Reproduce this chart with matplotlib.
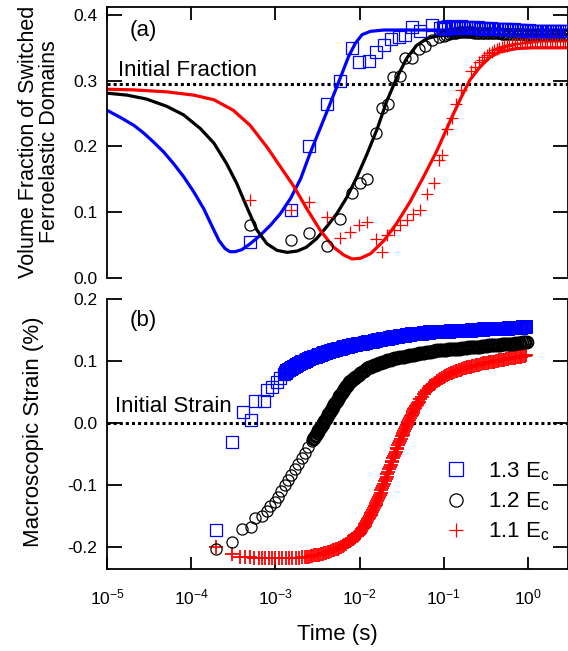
import numpy as np
import matplotlib
matplotlib.use("Agg")
import matplotlib.pyplot as plt
from matplotlib.lines import Line2D
from matplotlib.ticker import LogLocator, NullLocator, LogFormatterSciNotation

plt.rcParams['font.family'] = ['Liberation Sans', 'DejaVu Sans']
plt.rcParams['mathtext.fontset'] = 'custom'
plt.rcParams['mathtext.rm'] = 'Liberation Sans'
plt.rcParams['mathtext.it'] = 'Liberation Sans:italic'
plt.rcParams['mathtext.bf'] = 'Liberation Sans:bold'
plt.rcParams['axes.unicode_minus'] = False

# ---------------- data (log10 of time in s) ----------------
series_labels = ["1.3 E$_\\mathrm{c}$", "1.2 E$_\\mathrm{c}$", "1.1 E$_\\mathrm{c}$"]

# Panel (a): volume fraction of switched ferroelastic domains
a13_logt = [-3.30, -2.82, -2.60, -2.39, -2.23, -2.09, -2.01, -1.89, -1.81, -1.71, -1.63, -1.53,
            -1.46, -1.38, -1.28, -1.14, -1.04,
            -1.01, -0.98, -0.95, -0.92, -0.89, -0.86, -0.83, -0.80, -0.77, -0.74,
            -0.71, -0.68, -0.65, -0.62, -0.59, -0.56, -0.53, -0.50, -0.47, -0.44,
            -0.41, -0.38, -0.35, -0.32, -0.29, -0.26, -0.23, -0.20, -0.17, -0.14,
            -0.11, -0.08, -0.05, -0.02, 0.01, 0.04, 0.07, 0.10, 0.13, 0.16,
            0.19, 0.22, 0.25, 0.28, 0.31, 0.34, 0.37, 0.40, 0.43, 0.46]
a13_val = [0.055, 0.103, 0.201, 0.264, 0.300, 0.350, 0.329, 0.330, 0.344, 0.354, 0.363, 0.367,
           0.370, 0.382, 0.375, 0.385, 0.380,
           0.382, 0.379, 0.383, 0.381, 0.380, 0.382, 0.381, 0.383, 0.380, 0.381,
           0.382, 0.380, 0.381, 0.380, 0.381, 0.379, 0.380, 0.380, 0.379, 0.380,
           0.379, 0.379, 0.378, 0.379, 0.378, 0.378, 0.378, 0.377, 0.378, 0.377,
           0.377, 0.377, 0.377, 0.376, 0.377, 0.376, 0.376, 0.376, 0.376, 0.376,
           0.375, 0.376, 0.375, 0.375, 0.375, 0.375, 0.375, 0.375, 0.375, 0.375]

a12_logt = [-3.30, -2.82, -2.60, -2.39, -2.23, -2.09, -1.99, -1.91, -1.81, -1.73, -1.66, -1.60,
            -1.52, -1.46, -1.38, -1.30, -1.22, -1.14, -1.06,
            -1.00, -0.97, -0.94, -0.91, -0.88, -0.85, -0.82, -0.79, -0.76, -0.73,
            -0.70, -0.67, -0.64, -0.61, -0.58, -0.55, -0.52, -0.49, -0.46, -0.43,
            -0.40, -0.37, -0.34, -0.31, -0.28, -0.25, -0.22, -0.19, -0.16, -0.13,
            -0.10, -0.07, -0.04, -0.01, 0.02, 0.05, 0.08, 0.11, 0.14, 0.17,
            0.20, 0.23, 0.26, 0.29, 0.32, 0.35, 0.38, 0.41, 0.44, 0.47]
a12_val = [0.081, 0.058, 0.069, 0.048, 0.089, 0.129, 0.145, 0.151, 0.221, 0.259, 0.264, 0.305,
           0.307, 0.334, 0.334, 0.348, 0.353, 0.362, 0.367,
           0.368, 0.370, 0.371, 0.372, 0.373, 0.373, 0.374, 0.374, 0.374, 0.374,
           0.374, 0.374, 0.373, 0.373, 0.373, 0.373, 0.373, 0.372, 0.372, 0.372,
           0.372, 0.372, 0.372, 0.371, 0.371, 0.371, 0.371, 0.371, 0.371, 0.371,
           0.371, 0.371, 0.370, 0.370, 0.370, 0.370, 0.370, 0.370, 0.370, 0.370,
           0.370, 0.370, 0.370, 0.370, 0.370, 0.370, 0.370, 0.370, 0.370, 0.370]

a11_logt = [-3.30, -2.82, -2.60, -2.39, -2.23, -2.11, -2.01, -1.91, -1.81, -1.73, -1.67, -1.59,
            -1.52, -1.44, -1.36, -1.28, -1.20, -1.12, -1.06, -1.02, -0.96, -0.90, -0.86, -0.80,
            -0.68, -0.63,
            -0.58, -0.55, -0.52, -0.49, -0.46, -0.43, -0.40, -0.37, -0.34, -0.31,
            -0.28, -0.25, -0.22, -0.19, -0.16, -0.13, -0.10, -0.07, -0.04, -0.01,
            0.02, 0.05, 0.08, 0.11, 0.14, 0.17, 0.20, 0.23, 0.26, 0.29,
            0.32, 0.35, 0.38, 0.41, 0.44, 0.47]
a11_val = [0.118, 0.103, 0.115, 0.093, 0.061, 0.070, 0.080, 0.085, 0.060, 0.040, 0.065, 0.073,
           0.080, 0.088, 0.098, 0.103, 0.127, 0.144, 0.179, 0.187, 0.227, 0.243, 0.265, 0.286,
           0.314, 0.321,
           0.328, 0.332, 0.336, 0.339, 0.342, 0.344, 0.346, 0.348, 0.349, 0.351,
           0.352, 0.353, 0.354, 0.355, 0.356, 0.357, 0.357, 0.358, 0.358, 0.359,
           0.359, 0.359, 0.360, 0.360, 0.360, 0.360, 0.360, 0.360, 0.360, 0.360,
           0.360, 0.360, 0.360, 0.360, 0.360, 0.360]

# Fit curves of panel (a)
fit13_logt = [-5.00, -4.84, -4.68, -4.57, -4.45, -4.33, -4.21, -4.09, -3.97, -3.85, -3.75, -3.67,
              -3.60, -3.54, -3.48, -3.40, -3.30, -3.18, -3.06, -2.94, -2.82, -2.70, -2.59, -2.47,
              -2.35, -2.23, -2.13, -2.05, -1.97, -1.87, -1.71, 0.48]
fit13_val = [0.255, 0.244, 0.232, 0.221, 0.207, 0.192, 0.174, 0.154, 0.131, 0.105, 0.078, 0.057,
             0.045, 0.040, 0.040, 0.043, 0.052, 0.065, 0.080, 0.098, 0.121, 0.151, 0.189, 0.227,
             0.265, 0.304, 0.337, 0.357, 0.370, 0.375, 0.377, 0.377]

fit12_logt = [-5.00, -4.76, -4.53, -4.29, -4.09, -3.89, -3.73, -3.58, -3.46, -3.34, -3.22, -3.10,
              -2.98, -2.86, -2.74, -2.63, -2.51, -2.39, -2.27, -2.15, -2.03, -1.91, -1.79, -1.68,
              -1.56, -1.44, -1.32, -1.20, -1.08, -0.92, 0.48]
fit12_val = [0.281, 0.278, 0.272, 0.261, 0.248, 0.227, 0.205, 0.174, 0.144, 0.108, 0.073, 0.052,
             0.042, 0.039, 0.041, 0.047, 0.060, 0.078, 0.098, 0.123, 0.154, 0.189, 0.227, 0.268,
             0.304, 0.334, 0.354, 0.364, 0.368, 0.369, 0.370]

fit11_logt = [-5.00, -4.68, -4.29, -3.97, -3.73, -3.50, -3.30, -3.10, -2.94, -2.78, -2.63, -2.47,
              -2.31, -2.19, -2.09, -1.99, -1.87, -1.71, -1.56, -1.40, -1.24, -1.08, -0.92, -0.80,
              -0.69, -0.57, -0.45, -0.33, -0.13, 0.07, 0.48]
fit11_val = [0.287, 0.286, 0.283, 0.278, 0.271, 0.255, 0.232, 0.199, 0.169, 0.139, 0.106, 0.073,
             0.047, 0.035, 0.029, 0.030, 0.037, 0.057, 0.083, 0.116, 0.154, 0.194, 0.240, 0.273,
             0.301, 0.321, 0.336, 0.344, 0.349, 0.350, 0.350]

# Panel (b): macroscopic strain (%)
b13_logt = [-3.70, -3.52, -3.38, -3.29, -3.24, -3.14, -3.10, -3.04, -2.98, -2.94, -2.90,
            -2.88, -2.86, -2.84, -2.82, -2.80, -2.78, -2.76, -2.74, -2.72, -2.70,
            -2.68, -2.66, -2.64, -2.62, -2.60, -2.58, -2.56, -2.54, -2.52, -2.50,
            -2.48, -2.46, -2.44, -2.42, -2.40, -2.38, -2.36, -2.34, -2.32, -2.30,
            -2.28, -2.26, -2.24, -2.22, -2.20, -2.18, -2.16, -2.14, -2.12, -2.10,
            -2.08, -2.06, -2.04, -2.02, -2.00, -1.98, -1.96, -1.94, -1.92, -1.90,
            -1.88, -1.86, -1.84, -1.82, -1.80, -1.78, -1.76, -1.74, -1.72, -1.70,
            -1.68, -1.66, -1.64, -1.62, -1.60, -1.58, -1.56, -1.54, -1.52, -1.50,
            -1.48, -1.46, -1.44, -1.42, -1.40, -1.38, -1.36, -1.34, -1.32, -1.30,
            -1.28, -1.26, -1.24, -1.22, -1.20, -1.18, -1.16, -1.14, -1.12, -1.10,
            -1.08, -1.06, -1.04, -1.02, -1.00, -0.98, -0.96, -0.94, -0.92, -0.90,
            -0.88, -0.86, -0.84, -0.82, -0.80, -0.78, -0.76, -0.74, -0.72, -0.70,
            -0.68, -0.66, -0.64, -0.62, -0.60, -0.58, -0.56, -0.54, -0.52, -0.50,
            -0.48, -0.46, -0.44, -0.42, -0.40, -0.38, -0.36, -0.34, -0.32, -0.30,
            -0.28, -0.26, -0.24, -0.22, -0.20, -0.18, -0.16, -0.14, -0.12, -0.10,
            -0.08, -0.06, -0.04, -0.02]
b13_val = [-0.173, -0.031, 0.018, 0.004, 0.035, 0.035, 0.053, 0.058, 0.066, 0.072, 0.079,
           0.081, 0.083, 0.085, 0.087, 0.089, 0.090, 0.092, 0.093, 0.095, 0.096,
           0.098, 0.099, 0.100, 0.102, 0.103, 0.104, 0.105, 0.106, 0.107, 0.108,
           0.109, 0.110, 0.111, 0.112, 0.113, 0.114, 0.115, 0.116, 0.116, 0.117,
           0.118, 0.119, 0.119, 0.120, 0.121, 0.122, 0.122, 0.123, 0.124, 0.124,
           0.125, 0.126, 0.126, 0.127, 0.127, 0.128, 0.128, 0.129, 0.129, 0.130,
           0.130, 0.131, 0.131, 0.132, 0.132, 0.133, 0.134, 0.134, 0.135, 0.135,
           0.136, 0.136, 0.137, 0.137, 0.138, 0.138, 0.139, 0.139, 0.140, 0.140,
           0.141, 0.141, 0.142, 0.142, 0.142, 0.143, 0.143, 0.143, 0.144, 0.144,
           0.144, 0.144, 0.145, 0.145, 0.145, 0.145, 0.146, 0.146, 0.146, 0.146,
           0.146, 0.146, 0.147, 0.147, 0.147, 0.147, 0.147, 0.147, 0.148, 0.148,
           0.148, 0.148, 0.148, 0.148, 0.148, 0.148, 0.149, 0.149, 0.149, 0.149,
           0.149, 0.150, 0.150, 0.150, 0.150, 0.150, 0.150, 0.150, 0.151, 0.151,
           0.151, 0.151, 0.151, 0.151, 0.151, 0.152, 0.152, 0.152, 0.152, 0.152,
           0.152, 0.152, 0.152, 0.153, 0.153, 0.153, 0.153, 0.153, 0.153, 0.153,
           0.153, 0.154, 0.154, 0.154]

b12_logt = [-3.70, -3.52, -3.40, -3.29, -3.24, -3.16, -3.10, -3.06, -3.01, -2.97, -2.93, -2.89,
            -2.85, -2.81, -2.77, -2.73, -2.69, -2.65, -2.61, -2.57,
            -2.55, -2.53, -2.51, -2.49, -2.47, -2.45, -2.43, -2.41, -2.39, -2.37,
            -2.35, -2.33, -2.31, -2.29, -2.27, -2.25, -2.23, -2.21, -2.19, -2.17,
            -2.15, -2.13, -2.11, -2.09, -2.07, -2.05, -2.03, -2.01, -1.99, -1.97,
            -1.95, -1.93, -1.91, -1.89, -1.87, -1.85, -1.83, -1.81, -1.79, -1.77,
            -1.75, -1.73, -1.71, -1.69, -1.67, -1.65, -1.63, -1.61, -1.59, -1.57,
            -1.55, -1.53, -1.51, -1.49, -1.47, -1.45, -1.43, -1.41, -1.39, -1.37,
            -1.35, -1.33, -1.31, -1.29, -1.27, -1.25, -1.23, -1.21, -1.19, -1.17,
            -1.15, -1.13, -1.11, -1.09, -1.07, -1.05, -1.03, -1.01, -0.99, -0.97,
            -0.95, -0.93, -0.91, -0.89, -0.87, -0.85, -0.83, -0.81, -0.79, -0.77,
            -0.75, -0.73, -0.71, -0.69, -0.67, -0.65, -0.63, -0.61, -0.59, -0.57,
            -0.55, -0.53, -0.51, -0.49, -0.47, -0.45, -0.43, -0.41, -0.39, -0.37,
            -0.35, -0.33, -0.31, -0.29, -0.27, -0.25, -0.23, -0.21, -0.19, -0.17,
            -0.15, -0.13, -0.11, -0.09, -0.07, -0.05, -0.03, -0.01,
            -2.54, -2.52, -2.50, -2.48, -2.46, -2.44, -2.42, -2.40, -2.38, -2.36,
            -2.34, -2.32, -2.30, -2.28, -2.26, -2.24, -2.22, -2.20, -2.18, -2.16,
            -2.14, -2.12, -2.10, -2.08, -2.06]
b12_val = [-0.204, -0.193, -0.171, -0.168, -0.154, -0.150, -0.142, -0.134, -0.127, -0.119, -0.110,
           -0.101, -0.093, -0.084, -0.075, -0.066, -0.057, -0.048, -0.039, -0.030,
           -0.026, -0.021, -0.017, -0.012, -0.008, -0.004, 0.000, 0.005, 0.009, 0.014,
           0.018, 0.023, 0.027, 0.032, 0.036, 0.041, 0.045, 0.049, 0.053, 0.057,
           0.060, 0.064, 0.067, 0.069, 0.072, 0.074, 0.076, 0.078, 0.080, 0.082,
           0.084, 0.086, 0.088, 0.090, 0.091, 0.092, 0.093, 0.094, 0.095, 0.096,
           0.097, 0.098, 0.099, 0.100, 0.101, 0.102, 0.102, 0.103, 0.104, 0.105,
           0.105, 0.106, 0.106, 0.107, 0.107, 0.108, 0.108, 0.109, 0.109, 0.110,
           0.110, 0.111, 0.111, 0.112, 0.112, 0.113, 0.113, 0.114, 0.114, 0.115,
           0.115, 0.116, 0.116, 0.117, 0.117, 0.117, 0.118, 0.118, 0.118, 0.118,
           0.119, 0.119, 0.119, 0.119, 0.120, 0.120, 0.120, 0.120, 0.121, 0.121,
           0.121, 0.121, 0.122, 0.122, 0.122, 0.122, 0.123, 0.123, 0.123, 0.123,
           0.124, 0.124, 0.124, 0.124, 0.125, 0.125, 0.125, 0.125, 0.126, 0.126,
           0.126, 0.126, 0.127, 0.127, 0.127, 0.127, 0.128, 0.128, 0.128, 0.128,
           0.129, 0.129, 0.129, 0.129, 0.130, 0.130, 0.130, 0.130,
           -0.024, -0.019, -0.015, -0.010, -0.006, -0.002, 0.003, 0.007, 0.012, 0.016,
           0.021, 0.025, 0.030, 0.034, 0.039, 0.043, 0.047, 0.051, 0.055, 0.059,
           0.062, 0.066, 0.068, 0.071, 0.073]

b11_logt = [-3.70, -3.52, -3.42, -3.36, -3.30, -3.25, -3.20, -3.16, -3.12, -3.08, -3.04, -3.00,
            -2.96, -2.92, -2.88, -2.84, -2.80, -2.76, -2.72, -2.68, -2.65,
            -2.62, -2.60, -2.58, -2.56, -2.54, -2.52, -2.50, -2.48, -2.46, -2.44,
            -2.42, -2.40, -2.38, -2.36, -2.34, -2.32, -2.30, -2.28, -2.26, -2.24,
            -2.22, -2.20, -2.18, -2.16, -2.14, -2.12, -2.10, -2.08, -2.06, -2.04,
            -2.02, -2.00, -1.98, -1.96, -1.94, -1.92, -1.90, -1.88, -1.86, -1.84,
            -1.82, -1.80, -1.78, -1.76, -1.74, -1.72, -1.70, -1.68, -1.66, -1.64,
            -1.62, -1.60, -1.58, -1.56, -1.54, -1.52, -1.50, -1.48, -1.46, -1.44,
            -1.42, -1.40, -1.38, -1.36, -1.34, -1.32, -1.30, -1.28, -1.26, -1.24,
            -1.22, -1.20, -1.18, -1.16, -1.14, -1.12, -1.10, -1.08, -1.06, -1.04,
            -1.02, -1.00, -0.98, -0.96, -0.94, -0.92, -0.90, -0.88, -0.86, -0.84,
            -0.82, -0.80, -0.78, -0.76, -0.74, -0.72, -0.70, -0.68, -0.66, -0.64,
            -0.62, -0.60, -0.58, -0.56, -0.54, -0.52, -0.50, -0.48, -0.46, -0.44,
            -0.42, -0.40, -0.38, -0.36, -0.34, -0.32, -0.30, -0.28, -0.26, -0.24,
            -0.22, -0.20, -0.18, -0.16, -0.14, -0.12, -0.10, -0.08, -0.06, -0.04,
            -0.02,
            -2.11, -2.09, -2.07, -2.05, -2.03, -2.01, -1.99, -1.97, -1.95, -1.93,
            -1.91, -1.89, -1.87, -1.85, -1.83, -1.81, -1.79, -1.77, -1.75, -1.73,
            -1.71, -1.69, -1.67, -1.65, -1.63, -1.61, -1.59, -1.57, -1.55, -1.53,
            -1.51, -1.49, -1.47, -1.45, -1.43, -1.41, -1.39, -1.37, -1.35, -1.33,
            -1.31]
b11_val = [-0.201, -0.212, -0.216, -0.217, -0.217, -0.218, -0.218, -0.218, -0.219, -0.219, -0.219,
           -0.219, -0.219, -0.219, -0.219, -0.219, -0.218, -0.218, -0.218, -0.217, -0.217,
           -0.216, -0.216, -0.215, -0.215, -0.214, -0.214, -0.213, -0.213, -0.212, -0.211,
           -0.210, -0.210, -0.209, -0.208, -0.207, -0.206, -0.205, -0.204, -0.203, -0.202,
           -0.200, -0.199, -0.197, -0.195, -0.193, -0.191, -0.189, -0.187, -0.185, -0.183,
           -0.181, -0.178, -0.174, -0.170, -0.166, -0.161, -0.156, -0.151, -0.146, -0.141,
           -0.135, -0.129, -0.123, -0.116, -0.109, -0.102, -0.094, -0.087, -0.079, -0.071,
           -0.064, -0.057, -0.050, -0.043, -0.036, -0.029, -0.022, -0.016, -0.010, -0.004,
           0.002, 0.008, 0.013, 0.019, 0.024, 0.029, 0.034, 0.038, 0.042, 0.046,
           0.050, 0.053, 0.056, 0.059, 0.061, 0.063, 0.065, 0.067, 0.069, 0.071,
           0.073, 0.074, 0.076, 0.077, 0.079, 0.080, 0.081, 0.082, 0.083, 0.084,
           0.085, 0.086, 0.087, 0.088, 0.089, 0.090, 0.090, 0.091, 0.092, 0.092,
           0.093, 0.094, 0.094, 0.095, 0.096, 0.096, 0.097, 0.097, 0.098, 0.098,
           0.099, 0.099, 0.100, 0.100, 0.101, 0.101, 0.102, 0.102, 0.103, 0.103,
           0.104, 0.104, 0.105, 0.105, 0.106, 0.106, 0.107, 0.107, 0.108, 0.108,
           0.109,
           -0.190, -0.188, -0.186, -0.184, -0.182, -0.180, -0.176, -0.172, -0.168, -0.164,
           -0.159, -0.154, -0.149, -0.144, -0.138, -0.132, -0.126, -0.120, -0.113, -0.106,
           -0.098, -0.091, -0.083, -0.075, -0.068, -0.061, -0.054, -0.047, -0.040, -0.033,
           -0.026, -0.019, -0.013, -0.007, -0.001, 0.005, 0.011, 0.016, 0.022, 0.027,
           0.032]

initial_fraction = 0.295
initial_strain = 0.0

BLUE = '#0000FF'
RED = '#FF0000'
BLACK = '#000000'

def T(v):
    return 10.0 ** np.asarray(v)

W, H = 568, 651
fig = plt.figure(figsize=(W / 100, H / 100), dpi=100)
L = 107 / W
Wd = (W - 107) / W
ax1 = fig.add_axes([L, 1 - 278 / H, Wd, (278 - 7) / H])
ax2 = fig.add_axes([L, 1 - 569 / H, Wd, (569 - 299) / H])

xmax = 10 ** ((W - 107) / 84.2 - 5)
ms = 8.0
thin = 0.9

# ---- panel (a)
ax1.axhline(initial_fraction, color=BLACK, lw=2.2, ls=(0, (1, 1)), zorder=1)
ax1.plot(T(fit13_logt), fit13_val, color=BLUE, lw=2.3, zorder=2)
ax1.plot(T(fit12_logt), fit12_val, color=BLACK, lw=2.3, zorder=2)
ax1.plot(T(fit11_logt), fit11_val, color=RED, lw=2.3, zorder=2)
ax1.plot(T(a12_logt), a12_val, ls='none', marker='o', ms=ms, mfc='none', mec=BLACK, mew=thin, zorder=3)
ax1.plot(T(a11_logt), a11_val, ls='none', marker='+', ms=ms + 1, mec=RED, mew=thin, zorder=3)
ax1.plot(T(a13_logt), a13_val, ls='none', marker='s', ms=ms, mfc='none', mec=BLUE, mew=thin, zorder=3)

# ---- panel (b): early (sparse) points thin, later (dense) points heavier stroke
ax2.axhline(initial_strain, color=BLACK, lw=2.2, ls=(0, (1, 1)), zorder=1)
ax2.plot(T(b11_logt), b11_val, ls='none', marker='+', ms=ms + 1.5, mec=RED, mew=1.3, zorder=3)
ax2.plot(T(b12_logt[:20]), b12_val[:20], ls='none', marker='o', ms=ms, mfc='none', mec=BLACK,
         mew=thin, zorder=3)
ax2.plot(T(b12_logt[20:]), b12_val[20:], ls='none', marker='o', ms=ms + 0.5, mfc='none', mec=BLACK,
         mew=1.4, zorder=3)
ax2.plot(T(b13_logt[:11]), b13_val[:11], ls='none', marker='s', ms=ms, mfc='none', mec=BLUE,
         mew=thin, zorder=3)
ax2.plot(T(b13_logt[11:]), b13_val[11:], ls='none', marker='s', ms=ms + 0.5, mfc='none', mec=BLUE,
         mew=1.4, zorder=3)

for ax in (ax1, ax2):
    ax.set_xscale('log')
    ax.set_xlim(1e-5, xmax)
    ax.xaxis.set_major_locator(LogLocator(base=10, numticks=10))
    ax.xaxis.set_minor_locator(NullLocator())
    for s in ax.spines.values():
        s.set_linewidth(1.3)
    ax.tick_params(axis='y', which='major', direction='in', length=11, width=1.3,
                   left=True, right=True, labelsize=12.5, pad=7)
    ax.tick_params(axis='x', which='major', direction='in', length=9, width=1.3)

ax1.set_ylim(0.0, 0.412)
ax1.set_yticks([0.0, 0.1, 0.2, 0.3, 0.4])
ax1.spines['bottom'].set_visible(False)
ax1.tick_params(axis='x', bottom=False, top=True, labelbottom=False, labeltop=False)

ax2.set_ylim(-0.236, 0.2)
ax2.set_yticks([-0.2, -0.1, 0.0, 0.1, 0.2])
ax2.spines['top'].set_visible(False)
ax2.tick_params(axis='x', bottom=True, top=False, labelbottom=True, labelsize=12.5, pad=13)
ax2.xaxis.set_major_formatter(LogFormatterSciNotation())
ax2.set_xlabel('Time (s)', fontsize=16, labelpad=12)

# panel texts
ax1.text(0.05, 0.915, '(a)', transform=ax1.transAxes, fontsize=16, va='center', ha='left')
ax2.text(0.05, 0.922, '(b)', transform=ax2.transAxes, fontsize=16, va='center', ha='left')
ax1.text(0.024, 0.745, 'Initial Fraction', transform=ax1.transAxes, fontsize=16,
         va='baseline', ha='left')
ax2.text(0.017, 0.583, 'Initial Strain', transform=ax2.transAxes, fontsize=16,
         va='baseline', ha='left')

fig.text(39 / W, 1 - 142 / H, 'Volume Fraction of Switched\nFerroelastic Domains',
         rotation=90, ha='center', va='center', fontsize=15.5, linespacing=1.05)
fig.text(34 / W, 1 - 432 / H, 'Macroscopic Strain (%)', rotation=90,
         ha='center', va='center', fontsize=16)

handles = [Line2D([], [], ls='none', marker='s', ms=9.5, mfc='none', mec=BLUE, mew=thin),
           Line2D([], [], ls='none', marker='o', ms=9.5, mfc='none', mec=BLACK, mew=thin),
           Line2D([], [], ls='none', marker='+', ms=10.5, mec=RED, mew=thin)]
ax2.legend(handles, series_labels, loc='upper left', bbox_to_anchor=(445 / W, 1 - 460 / H),
           bbox_transform=fig.transFigure, frameon=False, fontsize=16, borderpad=0,
           borderaxespad=0, handlelength=1.0, handletextpad=0.94, labelspacing=0.35)

fig.savefig('out.png', dpi=100)
